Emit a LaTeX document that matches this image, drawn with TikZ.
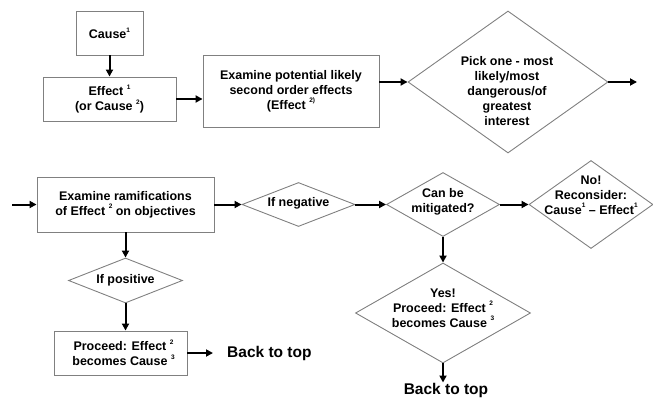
\documentclass[tikz,border=0pt]{standalone}
\usepackage{fontspec}
\setmainfont{Liberation Sans}
\usetikzlibrary{shapes.geometric,arrows.meta}
\newcommand{\spr}[1]{\raisebox{0.5em}{\fontsize{6.5}{6.5}\selectfont #1}}
\begin{document}
\begin{tikzpicture}[x=1pt,y=-1pt,
  every node/.style={font=\bfseries\fontsize{12.5}{15}\selectfont},
  box/.style={draw=black!50,line width=0.9pt,rectangle,inner sep=0pt,align=center},
  diam/.style={draw=black!50,line width=0.9pt,diamond,inner sep=0pt},
  lbl/.style={inner sep=0pt,align=center},
  arr/.style={line width=2pt,-{Triangle[length=7pt,width=7pt]}},
  back/.style={inner sep=0pt,font=\bfseries\fontsize{15.5}{18}\selectfont}]
\useasboundingbox (0,0) rectangle (653,401);
% top row
\node[box,minimum width=67pt,minimum height=44pt] (cause) at (109.5,33) {Cause\spr{1}};
\node[box,minimum width=133pt,minimum height=44pt] (eff1) at (109.5,99) {Effect \spr{1}\\(or Cause \spr{2})};
\node[box,minimum width=176pt,minimum height=72pt] (exam) at (291,91) {Examine potential likely\\second order effects\\(Effect \spr{2)}};
\node[diam,minimum width=200pt,minimum height=142pt] (pick) at (508,82) {};
\node[lbl] (picktxt) at (507,91.5) {Pick one - most\\likely/most\\dangerous/of\\greatest\\interest};
\coordinate (out) at (637,82);
\draw[arr] (cause.south) -- (eff1.north);
\draw[arr] (eff1.east) -- (exam.west |- eff1.east);
\draw[arr] (exam.east |- pick.west) -- (pick.west);
\draw[arr] (pick.east) -- (out);
% bottom row
\coordinate (in) at (12,204.5);
\node[box,minimum width=177pt,minimum height=55pt] (ram) at (125.5,204.5) {Examine ramifications\\of Effect \spr{2} on objectives};
\node[diam,minimum width=113pt,minimum height=44pt] (neg) at (298.5,204.5) {};
\node[lbl] (negtxt) at (298.5,203.5) {If negative};
\node[diam,minimum width=113pt,minimum height=64pt] (mit) at (443,204.5) {};
\node[lbl] (mittxt) at (443,202) {Can be\\mitigated?};
\node[diam,minimum width=124pt,minimum height=88pt] (no) at (591,204.5) {};
\node[lbl] (notxt) at (591,195) {No!\\Reconsider:\\Cause\spr{1} -- Effect\spr{1}};
\node[diam,minimum width=114pt,minimum height=45pt] (pos) at (125.5,280.5) {};
\node[lbl] (postxt) at (125.5,280.5) {If positive};
\node[box,minimum width=133pt,minimum height=44pt] (proc) at (120.5,353) {\hspace{6pt}Proceed: Effect \spr{2}\\\hspace{6pt}becomes Cause \spr{3}};
\node[back,anchor=west] (back1) at (227,353) {Back to top};
\node[diam,minimum width=175pt,minimum height=100pt] (yes) at (443,313) {};
\node[lbl] (yestxt) at (443,308) {Yes!\\Proceed: Effect \spr{2}\\becomes Cause \spr{3}};
\node[back,anchor=north] (back2) at (446,383.5) {Back to top};
\draw[arr] (in) -- (ram.west);
\draw[arr] (ram.east) -- (neg.west);
\draw[arr] (neg.east) -- (mit.west);
\draw[arr] (mit.east) -- (no.west);
\draw[arr] (ram.south) -- (pos.north);
\draw[arr] (pos.south) -- (pos.south |- proc.north);
\draw[arr] (proc.east) -- ([xshift=-14pt]back1.west);
\draw[arr] (mit.south) -- (yes.north);
\draw[arr] (yes.south) -- ([yshift=1pt]yes.south |- back2.north);
\end{tikzpicture}
\end{document}
